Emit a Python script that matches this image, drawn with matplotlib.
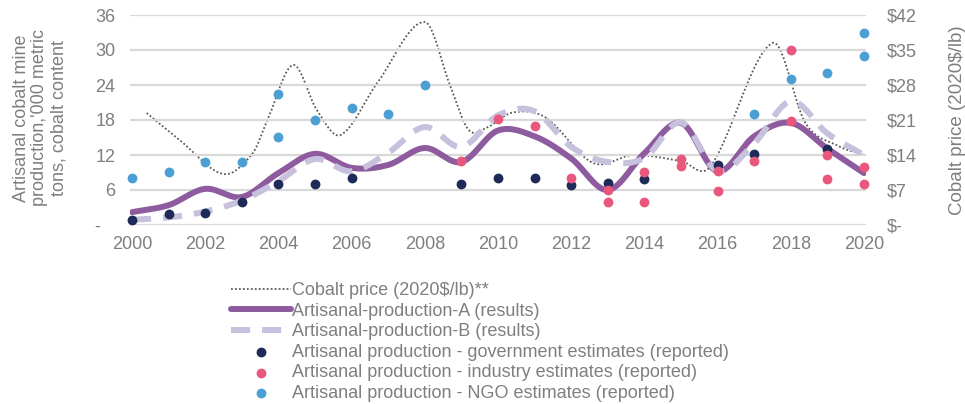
"""
Artisanal cobalt mine production vs. cobalt price, 2000-2020.
"""
import numpy as np
import matplotlib.pyplot as plt

plt.rcParams["font.family"] = ["Liberation Sans", "DejaVu Sans"]

# --------------------------- Data --------------------------- #
years = list(range(2000, 2021))

# model results, '000 t cobalt content
prod_a = [2.2, 3.4, 6.2, 4.8, 8.9, 12.2, 9.8, 10.3, 13.2, 10.8, 16.2,
          15.2, 11.4, 6.0, 12.3, 17.5, 9.2, 15.2, 17.5, 13.1, 8.9]
prod_b = [0.9, 1.3, 2.3, 4.2, 7.5, 11.3, 9.2, 12.4, 16.8, 13.4, 18.8,
          19.5, 13.4, 10.8, 11.5, 17.6, 9.3, 14.0, 21.2, 15.7, 12.0]

# reported estimates
gov_years = [2000, 2001, 2002, 2003, 2004, 2005, 2006, 2009, 2010, 2011,
             2012, 2013, 2014, 2016, 2017, 2019]
gov_values = [0.9, 1.9, 2.0, 4.0, 7.0, 7.0, 8.0, 7.0, 8.0, 8.0,
              6.8, 7.2, 7.9, 10.3, 12.2, 13.1]

ind_years = [2009, 2010, 2011, 2012, 2013, 2013, 2014, 2014, 2015, 2015,
             2016, 2016, 2017, 2018, 2018, 2019, 2019, 2020, 2020]
ind_values = [11.0, 18.1, 17.0, 8.0, 6.0, 4.0, 9.1, 4.0, 11.3, 10.2,
              9.2, 5.9, 11.0, 30.0, 17.9, 12.0, 7.9, 10.0, 7.0]

ngo_years = [2000, 2001, 2002, 2003, 2004, 2004, 2005, 2006, 2007, 2008,
             2017, 2018, 2019, 2020, 2020]
ngo_values = [8.0, 9.1, 10.8, 10.8, 22.4, 15.1, 18.0, 20.0, 19.0, 24.0,
              19.0, 25.0, 26.0, 33.0, 29.0]

# cobalt price, 2020$/lb
price_years = [2000.4, 2001.3, 2002.5, 2003.3, 2003.7, 2004.4, 2005.05,
               2005.7, 2006.7, 2008.0, 2008.7, 2009.2, 2009.7, 2010.4,
               2011.3, 2012.6, 2013.7, 2015.0, 2015.8, 2017.5, 2018.4,
               2019.3, 2020.0]
price_values = [22.4, 17.0, 10.2, 14.4, 21.0, 32.0, 23.0,
                18.0, 28.4, 40.6, 27.7, 19.0, 19.5, 22.5,
                21.5, 12.4, 14.0, 12.8, 11.7, 36.4, 20.4,
                15.8, 14.0]

left_ticks = [0, 6, 12, 18, 24, 30, 36]
left_labels = ["-   ", "6", "12", "18", "24", "30", "36"]
right_ticks = [0, 7, 14, 21, 28, 35, 42]
right_labels = ["$-", "$7", "$14", "$21", "$28", "$35", "$42"]
x_ticks = list(range(2000, 2021, 2))

GREY = "#7f7f7f"
FS = 13


def smooth(x, y, n=30):
    """Cubic Hermite curve through the points, Catmull-Rom tangents."""
    x = np.asarray(x, float)
    y = np.asarray(y, float)
    m = np.empty_like(y)
    m[1:-1] = (y[2:] - y[:-2]) / (x[2:] - x[:-2])
    m[0] = (y[1] - y[0]) / (x[1] - x[0])
    m[-1] = (y[-1] - y[-2]) / (x[-1] - x[-2])
    xs, ys = [], []
    for i in range(len(x) - 1):
        h = x[i + 1] - x[i]
        t = np.linspace(0, 1, n, endpoint=False)
        h00 = 2 * t**3 - 3 * t**2 + 1
        h10 = t**3 - 2 * t**2 + t
        h01 = -2 * t**3 + 3 * t**2
        h11 = t**3 - t**2
        xs.append(x[i] + t * h)
        ys.append(h00 * y[i] + h10 * h * m[i] + h01 * y[i + 1] + h11 * h * m[i + 1])
    xs.append([x[-1]])
    ys.append([y[-1]])
    return np.concatenate(xs), np.concatenate(ys)


fig = plt.figure(figsize=(9.65, 4.04), dpi=100)
ax = fig.add_axes([130 / 965, 179 / 404, 736 / 965, 210 / 404])
ax2 = ax.twinx()
ax.set_zorder(ax2.get_zorder() + 1)
ax.patch.set_visible(False)

# price on the secondary axis, sits underneath everything else
px, py = smooth(price_years, price_values)
price_line, = ax2.plot(px, py, color="#5a5a5a", lw=1.3, ls=(0, (1, 1.2)),
                       label="Cobalt price (2020$/lb)**")

ax_x, ax_y = smooth(years, prod_a)
line_a, = ax.plot(ax_x, ax_y, color="#8e5c9e", lw=4.3, solid_capstyle="round",
                  zorder=2, label="Artisanal-production-A (results)")
bx, by = smooth(years, prod_b)
line_b, = ax.plot(bx, by, color="#c8c1de", lw=4.3, ls=(0, (3.2, 2.0)),
                  zorder=3, label="Artisanal-production-B (results)")

dots_gov = ax.scatter(gov_years, gov_values, s=50, color="#1e2a58", zorder=4,
                      clip_on=False, linewidths=0,
                      label="Artisanal production - government estimates (reported)")
dots_ind = ax.scatter(ind_years, ind_values, s=50, color="#e9587c", zorder=5,
                      clip_on=False, linewidths=0,
                      label="Artisanal production - industry estimates (reported)")
dots_ngo = ax.scatter(ngo_years, ngo_values, s=50, color="#4c9fd3", zorder=6,
                      clip_on=False, linewidths=0,
                      label="Artisanal production - NGO estimates (reported)")

ax.set_xlim(1999.945, 2020.055)
ax.set_ylim(0, 36)
ax2.set_ylim(0, 42)

ax.set_yticks(left_ticks, left_labels)
ax2.set_yticks(right_ticks, right_labels)
ax.set_xticks(x_ticks, [str(y) for y in x_ticks])
ax.yaxis.grid(True, color="#d9d9d9", lw=1.6, zorder=0)
ax.set_axisbelow(True)

for a in (ax, ax2):
    for s in a.spines.values():
        s.set_visible(False)
ax.tick_params(axis="y", length=0, pad=10.5, labelsize=FS, labelcolor=GREY)
ax.tick_params(axis="x", length=0, pad=8, labelsize=FS, labelcolor=GREY)
ax2.tick_params(axis="y", length=0, pad=15, labelsize=FS, labelcolor=GREY)

fig.text(40 / 965, 1 - 118 / 404,
         "Artisanal cobalt mine\nproduction,'000 metric\ntons, cobalt content",
         rotation=90, ha="center", va="center", multialignment="center",
         fontsize=FS, color=GREY, linespacing=1.12)
fig.text(957 / 965, 1 - 120 / 404, "Cobalt price (2020$/lb)", rotation=90,
         ha="center", va="center", fontsize=FS + 0.5, color=GREY)

handles = [price_line, line_a, line_b, dots_gov, dots_ind, dots_ngo]
fig.legend(handles, [h.get_label() for h in handles], loc="upper left",
           bbox_to_anchor=(231 / 965, 1 - 282 / 404), frameon=False,
           handlelength=3.3, handletextpad=0.1, labelspacing=0.2,
           borderpad=0, borderaxespad=0, fontsize=FS, scatterpoints=1,
           labelcolor=GREY)

fig.savefig("out.png", dpi=100)
